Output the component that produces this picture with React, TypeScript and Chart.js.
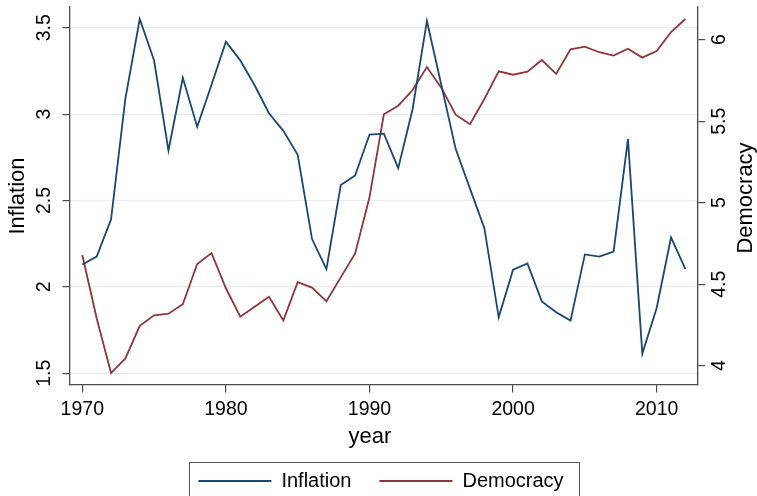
import React, { useEffect, useRef } from 'react';
import { Chart, registerables } from 'chart.js';

Chart.register(...registerables);

const years = [
  1970, 1971, 1972, 1973, 1974, 1975, 1976, 1977, 1978, 1979,
  1980, 1981, 1982, 1983, 1984, 1985, 1986, 1987, 1988, 1989,
  1990, 1991, 1992, 1993, 1994, 1995, 1996, 1997, 1998, 1999,
  2000, 2001, 2002, 2003, 2004, 2005, 2006, 2007, 2008, 2009,
  2010, 2011, 2012,
];

const inflation = [
  2.13, 2.175, 2.39, 3.09, 3.55, 3.31, 2.79, 3.21, 2.926, 3.17,
  3.419, 3.311, 3.167, 3.005, 2.903, 2.764, 2.277, 2.103, 2.589, 2.645,
  2.882, 2.887, 2.687, 3.028, 3.539, 3.17, 2.799, 2.569, 2.34, 1.824,
  2.1, 2.136, 1.916, 1.853, 1.805, 2.188, 2.175, 2.205, 2.855, 1.614,
  1.878, 2.286, 2.103,
];

const democracy = [
  4.679, 4.291, 3.955, 4.045, 4.245, 4.309, 4.319, 4.377, 4.624, 4.691,
  4.475, 4.301, 4.362, 4.423, 4.278, 4.513, 4.479, 4.395, 4.542, 4.689,
  5.033, 5.542, 5.595, 5.691, 5.832, 5.706, 5.54, 5.481, 5.636, 5.806,
  5.785, 5.804, 5.875, 5.79, 5.941, 5.957, 5.923, 5.902, 5.945, 5.89,
  5.931, 6.047, 6.127,
];

const yearTicks = [1970, 1980, 1990, 2000, 2010];
const inflationTicks = [1.5, 2, 2.5, 3, 3.5];
const democracyTicks = [4, 4.5, 5, 5.5, 6];

const FONT = '"Liberation Sans", Arial, Helvetica, sans-serif';
const AXIS = '#4a4a4a';
const GRID = '#e6eef0';
const BLUE = '#1a476f';
const RED = '#90353b';

const decorPlugin = {
  id: 'decor',
  afterDraw(chart: any) {
    const ctx = chart.ctx;
    const a = chart.chartArea;
    const midY = (a.top + a.bottom) / 2;
    ctx.save();
    ctx.fillStyle = '#000';
    ctx.font = `22px ${FONT}`;
    ctx.textAlign = 'center';
    ctx.textBaseline = 'alphabetic';
    // left title
    ctx.save();
    ctx.translate(a.left - 46.5, midY);
    ctx.rotate(-Math.PI / 2);
    ctx.fillText('Inflation', 0, 0);
    ctx.restore();
    // right title
    ctx.save();
    ctx.translate(a.right + 54, midY + 2);
    ctx.rotate(-Math.PI / 2);
    ctx.fillText('Democracy', 0, 0);
    ctx.restore();
    // x title
    ctx.fillText('year', a.left + 300, a.bottom + 58);
    // legend frame
    const lg = chart.legend;
    const hb = lg && lg.legendHitBoxes;
    if (hb && hb.length) {
      const first = hb[0];
      const last = hb[hb.length - 1];
      const left = Math.round(first.left - 9) + 0.5;
      const right = Math.round(last.left + last.width + 15) + 0.5;
      const top = Math.round(first.top - 9.5) + 0.5;
      ctx.strokeStyle = '#555';
      ctx.lineWidth = 1;
      ctx.strokeRect(left, top, right - left, 60);
    }
    ctx.restore();
  },
};

export default function App() {
  const ref = useRef<HTMLCanvasElement | null>(null);

  useEffect(() => {
    document.body.style.margin = '0';
    const canvas = ref.current;
    if (!canvas) return;
    const chart = new Chart(canvas, {
      type: 'line',
      data: {
        datasets: [
          {
            label: 'Inflation',
            data: years.map((x, i) => ({ x, y: inflation[i] })),
            borderColor: BLUE,
            backgroundColor: BLUE,
            borderWidth: 1.8,
            pointRadius: 0,
            tension: 0,
            yAxisID: 'y',
          },
          {
            label: 'Democracy',
            data: years.map((x, i) => ({ x, y: democracy[i] })),
            borderColor: RED,
            backgroundColor: RED,
            borderWidth: 1.8,
            pointRadius: 0,
            tension: 0,
            yAxisID: 'y1',
          },
        ],
      },
      options: {
        animation: false,
        responsive: false,
        devicePixelRatio: 1,
        layout: { padding: { top: 7, bottom: -5, left: 5, right: 0 } },
        plugins: {
          tooltip: { enabled: false },
          title: { display: false },
          legend: {
            display: true,
            position: 'bottom',
            labels: {
              usePointStyle: true,
              pointStyle: 'line',
              pointStyleWidth: 73,
              boxHeight: 20,
              padding: 28,
              color: '#000',
              font: { family: FONT, size: 20 },
            },
          },
        },
        scales: {
          x: {
            type: 'linear',
            min: 1969.143,
            max: 2012.857,
            afterBuildTicks: (s: any) => {
              s.ticks = yearTicks.map((v) => ({ value: v }));
            },
            afterFit: (s: any) => {
              s.height = 58;
              s.paddingLeft = 0;
              s.paddingRight = 0;
            },
            grid: {
              display: true,
              drawOnChartArea: false,
              drawTicks: true,
              tickLength: 7.5,
              tickColor: AXIS,
              color: AXIS,
              lineWidth: 1.2,
            },
            border: { display: true, color: AXIS, width: 1.3 },
            ticks: {
              autoSkip: false,
              maxRotation: 0,
              minRotation: 0,
              padding: 5.5,
              color: '#000',
              font: { family: FONT, size: 19.5 },
              callback: (v: any) => String(v),
            },
          },
          y: {
            type: 'linear',
            position: 'left',
            min: 1.4323,
            max: 3.6198,
            afterBuildTicks: (s: any) => {
              s.ticks = inflationTicks.map((v) => ({ value: v }));
            },
            afterFit: (s: any) => {
              s.width = 65;
              s.paddingTop = 0;
              s.paddingBottom = 0;
            },
            grid: {
              display: true,
              drawOnChartArea: true,
              drawTicks: true,
              tickLength: 7.5,
              color: GRID,
              tickColor: AXIS,
              lineWidth: 1.2,
            },
            border: { display: true, color: AXIS, width: 1.3 },
            ticks: {
              autoSkip: false,
              minRotation: 90,
              maxRotation: 90,
              crossAlign: 'center',
              padding: 4,
              color: '#000',
              font: { family: FONT, size: 19.5 },
              callback: (v: any) => String(v),
            },
          },
          y1: {
            type: 'linear',
            position: 'right',
            min: 3.8816,
            max: 6.2006,
            afterBuildTicks: (s: any) => {
              s.ticks = democracyTicks.map((v) => ({ value: v }));
            },
            afterFit: (s: any) => {
              s.width = 59.3;
              s.paddingTop = 0;
              s.paddingBottom = 0;
            },
            grid: {
              display: true,
              drawOnChartArea: false,
              drawTicks: true,
              tickLength: 7.5,
              color: AXIS,
              tickColor: AXIS,
              lineWidth: 1.2,
            },
            border: { display: true, color: AXIS, width: 1.3 },
            ticks: {
              autoSkip: false,
              minRotation: 90,
              maxRotation: 90,
              crossAlign: 'center',
              padding: 1.25,
              color: '#000',
              font: { family: FONT, size: 19.5 },
              callback: (v: any) => String(v),
            },
          },
        },
      },
      plugins: [decorPlugin],
    } as any);
    return () => chart.destroy();
  }, []);

  return (
    <div style={{ width: 757, height: 496, background: '#fff' }}>
      <canvas ref={ref} width={757} height={496} style={{ display: 'block' }} />
    </div>
  );
}
